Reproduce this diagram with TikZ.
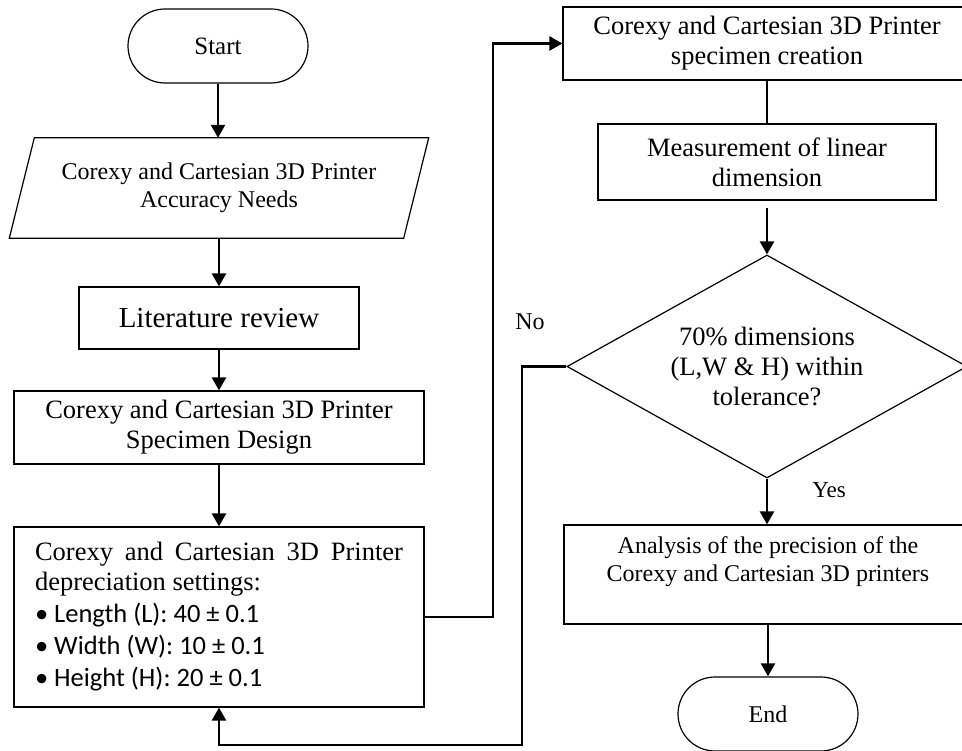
\documentclass[tikz,border=0pt]{standalone}
\usepackage{fontspec}
\setmainfont{Liberation Serif}
\newfontfamily\calfont{Carlito}
\usetikzlibrary{arrows.meta,positioning,shapes.geometric,shapes.misc}
\newcommand\txtA{\fontsize{26.5}{30}\selectfont}
\newcommand\txtB{\fontsize{24}{28.5}\selectfont}
\tikzset{
  ar/.style={-{Triangle[length=13pt,width=14pt]},line width=2.4pt},
  ln/.style={line width=2.4pt},
  edge/.style={line width=1.2pt},
  box/.style={draw,line width=1.2pt,rectangle,align=center,inner sep=0pt},
  term/.style={draw,line width=1.2pt,rounded rectangle,inner sep=0pt,minimum width=180pt,minimum height=74pt},
  io/.style={rectangle,align=center,inner sep=0pt},
  ask/.style={draw,line width=1.2pt,diamond,aspect=1.79,align=center,inner sep=0pt}
}

\begin{document}
\begin{tikzpicture}[x=1pt,y=-1pt]
\useasboundingbox (0,0) rectangle (962,751);
% left column
\node[term,font=\fontsize{25}{30}\selectfont] (start) at (218,46) {Start};
\node[io,minimum width=394pt,minimum height=100pt,font=\txtB] (need) at (219,188) {Corexy and Cartesian 3D Printer\\Accuracy Needs};
\draw[edge] ([xshift=-12.5pt]need.south west) -- ([xshift=-12.5pt]need.south east)
  -- ([xshift=12.5pt]need.north east) -- ([xshift=12.5pt]need.north west) -- cycle;
\node[box,minimum width=280pt,minimum height=62pt,font=\fontsize{29}{33}\selectfont] (lit) at (219,318) {Literature review};
\node[box,minimum width=410pt,minimum height=73pt,font=\txtA] (design) at (219,427.5) {Corexy and Cartesian 3D Printer\\Specimen Design};
\node[box,minimum width=410pt,minimum height=180pt,text width=368pt,align=justify,font=\txtA] (set) at (219,617) {\setlength\parindent{0pt}Corexy and Cartesian 3D Printer depreciation settings:\par
  {\calfont\fontsize{26.5}{32}\selectfont
  • Length (L): 40 ± 0.1\par
  • Width (W): 10 ± 0.1\par
  • Height (H): 20 ± 0.1\par}};
% right column
\node[box,minimum width=408pt,minimum height=73pt,font=\txtA] (make) at (767,43.5) {Corexy and Cartesian 3D Printer\\specimen creation};
\node[box,minimum width=338pt,minimum height=76pt,font=\txtA] (meas) at (767,162) {Measurement of linear\\dimension};
\node[ask,minimum width=400pt,minimum height=223pt,font=\txtA] (check) at (767,366.5) {70\% dimensions\\(L,W \& H) within\\tolerance?};
\node[box,minimum width=408pt,minimum height=99pt,text depth=31pt,font=\txtB] (anal) at (768,574.5) {Analysis of the precision of the\\Corexy and Cartesian 3D printers};
\node[term,font=\fontsize{24}{28}\selectfont] (stop) at (768,714) {End};
\node[font=\txtB] (nolbl) at (530,322) {No};
\node[font=\fontsize{23}{27}\selectfont] (yeslbl) at (829,490) {Yes};
% connectors
\coordinate (up) at (493,0);
\coordinate (back) at (522,745);
\draw[ar] (start.south) -- (start.south |- need.north);
\draw[ar] (need.south) -- (need.south |- lit.north);
\draw[ar] (lit.south) -- (design.north);
\draw[ar] (design.south) -- (set.north);
\draw[ar] (set.east) -| (up |- make.west) -- (make.west);
\draw[ln] (meas.north |- make.south) -- (meas.north);
\draw[ar] ([yshift=-7pt]meas.south) -- (check.north);
\draw[ar] (check.west) -| (back) -| (set.south);
\draw[ar] (check.south) -- (check.south |- anal.north);
\draw[ar] (anal.south) -- (anal.south |- stop.north);
\end{tikzpicture}
\end{document}
